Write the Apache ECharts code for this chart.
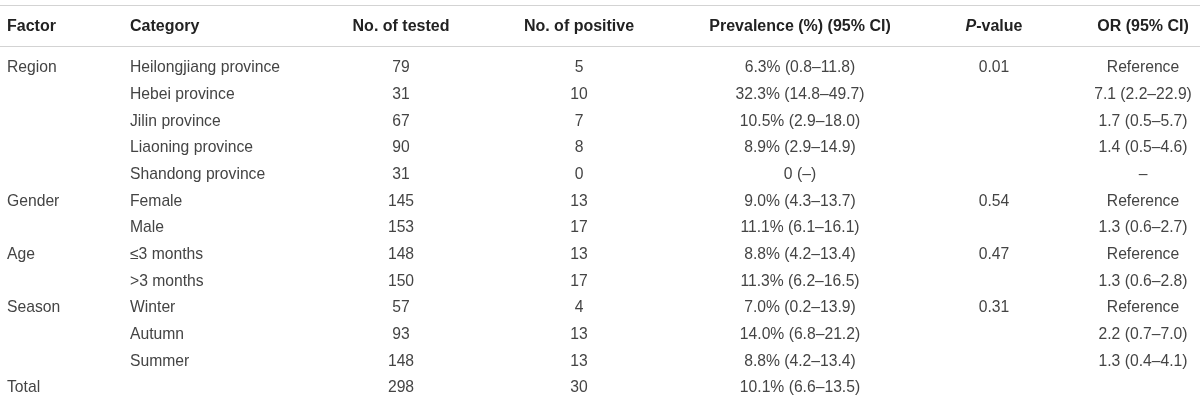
<!DOCTYPE html>
<html>
<head>
<meta charset="utf-8">
<script src="https://cdn.jsdelivr.net/npm/echarts@6/dist/echarts.min.js"></script>
<style>
  html, body { margin: 0; padding: 0; background: #fff; }
  #main { width: 1200px; height: 402px; }
</style>
</head>
<body>
<div id="main"></div>
<script>
// 表格数据
var headers = ['Factor', 'Category', 'No. of tested', 'No. of positive', 'Prevalence (%) (95% CI)', '{i|P}-value', 'OR (95% CI)'];
var factors = ['Region', '', '', '', '', 'Gender', '', 'Age', '', 'Season', '', '', 'Total'];
var categories = ['Heilongjiang province', 'Hebei province', 'Jilin province', 'Liaoning province', 'Shandong province',
  'Female', 'Male', '≤3 months', '>3 months', 'Winter', 'Autumn', 'Summer', ''];
var tested = [79, 31, 67, 90, 31, 145, 153, 148, 150, 57, 93, 148, 298];
var positive = [5, 10, 7, 8, 0, 13, 17, 13, 17, 4, 13, 13, 30];
var prevalence = [6.3, 32.3, 10.5, 8.9, 0, 9.0, 11.1, 8.8, 11.3, 7.0, 14.0, 8.8, 10.1];
var prevLow = [0.8, 14.8, 2.9, 2.9, null, 4.3, 6.1, 4.2, 6.2, 0.2, 6.8, 4.2, 6.6];
var prevHigh = [11.8, 49.7, 18.0, 14.9, null, 13.7, 16.1, 13.4, 16.5, 13.9, 21.2, 13.4, 13.5];
var pValues = [0.01, null, null, null, null, 0.54, null, 0.47, null, 0.31, null, null, null];
var orValue = ['Reference', 7.1, 1.7, 1.4, '–', 'Reference', 1.3, 'Reference', 1.3, 'Reference', 2.2, 1.3, ''];
var orLow = [null, 2.2, 0.5, 0.5, null, null, 0.6, null, 0.6, null, 0.7, 0.4, null];
var orHigh = [null, 22.9, 5.7, 4.6, null, null, 2.7, null, 2.8, null, 7.0, 4.1, null];

// 格式化
function ci(v, lo, hi) {
  return v.toFixed(1) + ' (' + lo.toFixed(1) + '–' + hi.toFixed(1) + ')';
}
var prevText = prevalence.map(function (v, i) {
  return prevLow[i] == null ? v + ' (–)' : v.toFixed(1) + '% (' + prevLow[i].toFixed(1) + '–' + prevHigh[i].toFixed(1) + ')';
});
var pText = pValues.map(function (v) { return v == null ? '' : v.toFixed(2); });
var orText = orValue.map(function (v, i) {
  return typeof v === 'number' ? ci(v, orLow[i], orHigh[i]) : v;
});

// 列的锚点 (x 轴 0-1200)
var cols = [
  { x: 7, align: 'left', body: factors },
  { x: 130, align: 'left', body: categories },
  { x: 401, align: 'center', body: tested },
  { x: 579, align: 'center', body: positive },
  { x: 800, align: 'center', body: prevText },
  { x: 994, align: 'center', body: pText },
  { x: 1143, align: 'center', body: orText }
];

var FONT = '"Liberation Sans", Arial, Helvetica, sans-serif';

function cellSeries(texts, col, gridIdx, head) {
  return {
    type: 'custom',
    xAxisIndex: gridIdx === 0 ? 0 : 2,
    yAxisIndex: gridIdx,
    silent: true,
    data: texts.map(function (t, i) { return [i]; }),
    renderItem: function (params, api) {
      var pt = api.coord([col.x, api.value(0)]);
      return {
        type: 'text',
        x: pt[0],
        y: pt[1] + 1.5,
        style: {
          text: String(texts[params.dataIndex]),
          align: col.align,
          textAlign: col.align,
          verticalAlign: 'middle',
          textVerticalAlign: 'middle',
          fontFamily: FONT,
          fontSize: head ? 16 : 15.7,
          fontWeight: head ? 'bold' : 'normal',
          fill: head ? '#222' : '#444',
          rich: {
            i: { fontFamily: FONT, fontSize: 16, fontWeight: 'bold', fontStyle: 'italic', fill: '#222' }
          }
        }
      };
    }
  };
}

var lineStyle = { color: '#d3d3d3', width: 1.2 };
var hiddenAxis = { show: false };

var series = [];
cols.forEach(function (col, c) {
  series.push(cellSeries([headers[c]], col, 0, true));
  series.push(cellSeries(col.body, col, 1, false));
});

var chart = echarts.init(document.getElementById('main'));
chart.setOption({
  animation: false,
  grid: [
    { left: 0, right: 0, top: 5, height: 41 },
    { left: 0, right: 0, top: 53.33, height: 346.67 }
  ],
  xAxis: [
    { type: 'value', gridIndex: 0, min: 0, max: 1200, position: 'top',
      axisLine: { show: true, lineStyle: lineStyle }, axisTick: hiddenAxis, axisLabel: hiddenAxis, splitLine: hiddenAxis },
    { type: 'value', gridIndex: 0, min: 0, max: 1200, position: 'bottom',
      axisLine: { show: true, lineStyle: lineStyle }, axisTick: hiddenAxis, axisLabel: hiddenAxis, splitLine: hiddenAxis },
    { type: 'value', gridIndex: 1, min: 0, max: 1200, show: false }
  ],
  yAxis: [
    { type: 'category', gridIndex: 0, data: ['header'], show: false },
    { type: 'category', gridIndex: 1, data: categories.map(function (c, i) { return i; }), inverse: true, show: false }
  ],
  series: series
});
</script>
</body>
</html>
